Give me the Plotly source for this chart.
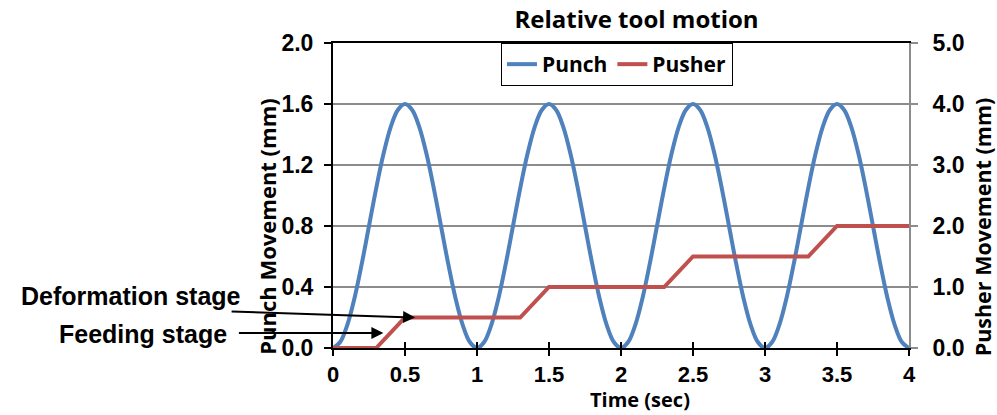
import plotly.graph_objects as go

# ---- data ----
time_s = [0.00, 0.05, 0.10, 0.15, 0.20, 0.25, 0.30, 0.35, 0.40, 0.45,
          0.50, 0.55, 0.60, 0.65, 0.70, 0.75, 0.80, 0.85, 0.90, 0.95,
          1.00, 1.05, 1.10, 1.15, 1.20, 1.25, 1.30, 1.35, 1.40, 1.45,
          1.50, 1.55, 1.60, 1.65, 1.70, 1.75, 1.80, 1.85, 1.90, 1.95,
          2.00, 2.05, 2.10, 2.15, 2.20, 2.25, 2.30, 2.35, 2.40, 2.45,
          2.50, 2.55, 2.60, 2.65, 2.70, 2.75, 2.80, 2.85, 2.90, 2.95,
          3.00, 3.05, 3.10, 3.15, 3.20, 3.25, 3.30, 3.35, 3.40, 3.45,
          3.50, 3.55, 3.60, 3.65, 3.70, 3.75, 3.80, 3.85, 3.90, 3.95,
          4.00]
punch_mm = [0.000, 0.039, 0.153, 0.330, 0.553, 0.800, 1.047, 1.270, 1.447, 1.561,
            1.600, 1.561, 1.447, 1.270, 1.047, 0.800, 0.553, 0.330, 0.153, 0.039,
            0.000, 0.039, 0.153, 0.330, 0.553, 0.800, 1.047, 1.270, 1.447, 1.561,
            1.600, 1.561, 1.447, 1.270, 1.047, 0.800, 0.553, 0.330, 0.153, 0.039,
            0.000, 0.039, 0.153, 0.330, 0.553, 0.800, 1.047, 1.270, 1.447, 1.561,
            1.600, 1.561, 1.447, 1.270, 1.047, 0.800, 0.553, 0.330, 0.153, 0.039,
            0.000, 0.039, 0.153, 0.330, 0.553, 0.800, 1.047, 1.270, 1.447, 1.561,
            1.600, 1.561, 1.447, 1.270, 1.047, 0.800, 0.553, 0.330, 0.153, 0.039,
            0.000]
pusher_time = [0.0, 0.3, 0.5, 1.3, 1.5, 2.3, 2.5, 3.3, 3.5, 4.0]
pusher_mm = [0.0, 0.0, 0.5, 0.5, 1.0, 1.0, 1.5, 1.5, 2.0, 2.0]

x_ticks = [0, 0.5, 1, 1.5, 2, 2.5, 3, 3.5, 4]
x_ticklabels = ["0", "0.5", "1", "1.5", "2", "2.5", "3", "3.5", "4"]
y1_ticks = [0.0, 0.4, 0.8, 1.2, 1.6, 2.0]
y1_ticklabels = ["0.0", "0.4", "0.8", "1.2", "1.6", "2.0"]
y2_ticks = [0, 1, 2, 3, 4, 5]
y2_ticklabels = ["0.0", "1.0", "2.0", "3.0", "4.0", "5.0"]

ARIAL = "Liberation Sans, Arial, sans-serif"
CALIBRI = "Open Sans, Calibri, sans-serif"
GRAY = "#8C8C8C"

fig = go.Figure()
fig.add_trace(go.Scatter(x=time_s, y=punch_mm, mode="lines", name="Punch",
                         line=dict(color="#4F81BD", width=4, shape="spline"), yaxis="y"))
fig.add_trace(go.Scatter(x=pusher_time, y=pusher_mm, mode="lines", name="Pusher",
                         line=dict(color="#C0504D", width=4), yaxis="y2"))
# invisible trace so the inner-tick x axis is drawn
fig.add_trace(go.Scatter(x=[0], y=[0], xaxis="x2", yaxis="y", mode="markers",
                         marker=dict(opacity=0), showlegend=False, hoverinfo="skip"))

fig.update_layout(
    width=997, height=415,
    margin=dict(l=333, r=88, t=43, b=67),
    paper_bgcolor="white", plot_bgcolor="white",
    showlegend=True,
    title=dict(text="Relative tool motion", xref="paper", x=0.527, xanchor="center",
               yref="container", y=0.952, yanchor="middle",
               font=dict(family=CALIBRI, size=24, color="black", weight="bold")),
    legend=dict(orientation="h", x=0.493, xanchor="center", y=1.0, yanchor="top",
                bgcolor="white", bordercolor="black", borderwidth=1,
                font=dict(family=CALIBRI, size=21, color="black", weight="bold"),
                tracegroupgap=0),
    xaxis=dict(range=[0, 4], tickvals=x_ticks, ticktext=x_ticklabels,
               showgrid=False, zeroline=False, showline=True, linecolor="black", linewidth=2,
               mirror=True, ticks="outside", ticklen=6, tickwidth=2, tickcolor="black",
               ticklabelstandoff=0,
               tickfont=dict(family=ARIAL, size=22, color="black", weight="bold")),
    xaxis2=dict(range=[0, 4], tickvals=x_ticks, ticktext=["" for _ in x_ticks], overlaying="x",
                showgrid=False, zeroline=False, showline=False, ticks="inside", ticklen=6,
                tickwidth=2, tickcolor="black", side="bottom", anchor="y"),
    yaxis=dict(range=[0, 2], tickvals=y1_ticks, ticktext=y1_ticklabels,
               showgrid=True, gridcolor=GRAY, gridwidth=1.5, zeroline=False,
               showline=True, linecolor="black", linewidth=2,
               ticks="outside", ticklen=7, tickwidth=2, tickcolor="black", ticklabelstandoff=6,
               tickfont=dict(family=ARIAL, size=23, color="black", weight="bold")),
    yaxis2=dict(range=[0, 5], tickvals=y2_ticks, ticktext=y2_ticklabels, overlaying="y", side="right",
                showgrid=False, zeroline=False, showline=True, linecolor=GRAY, linewidth=2,
                ticks="outside", ticklen=7, tickwidth=2, tickcolor=GRAY, ticklabelstandoff=10,
                tickfont=dict(family=ARIAL, size=23, color="black", weight="bold")),
)

# axis titles (placed as in the reference)
fig.add_annotation(text="Time (sec)", xref="paper", yref="paper", x=0.533, y=-0.219,
                   xanchor="center", yanchor="bottom", showarrow=False,
                   font=dict(family=CALIBRI, size=20, color="black", weight="bold"))
fig.add_annotation(text="Punch Movement (mm)", xref="paper", yref="paper", x=-0.116, y=0.398,
                   xanchor="center", yanchor="middle", showarrow=False, textangle=-90,
                   font=dict(family=CALIBRI, size=22, color="black", weight="bold"))
fig.add_annotation(text="Pusher Movement (mm)", xref="paper", yref="paper", x=1.128, y=0.398,
                   xanchor="center", yanchor="middle", showarrow=False, textangle=-90,
                   font=dict(family=CALIBRI, size=21.5, color="black", weight="bold"))

# stage labels and arrows
fig.add_annotation(text="Deformation stage", xref="paper", yref="paper", x=-0.157, y=0.171,
                   xanchor="right", yanchor="middle", showarrow=False,
                   font=dict(family=ARIAL, size=25, color="black", weight="bold"))
fig.add_annotation(text="Feeding stage", xref="paper", yref="paper", x=-0.181, y=0.046,
                   xanchor="right", yanchor="middle", showarrow=False,
                   font=dict(family=ARIAL, size=25, color="black", weight="bold"))
fig.add_annotation(text="", xref="x", yref="y", x=0.57, y=0.2, ax=-185, ay=-6,
                   showarrow=True, arrowhead=2, arrowsize=1.2, arrowwidth=2, arrowcolor="black")
fig.add_annotation(text="", xref="x", yref="y", x=0.35, y=0.099, ax=-146, ay=0,
                   showarrow=True, arrowhead=2, arrowsize=1.2, arrowwidth=2, arrowcolor="black")

fig.write_html("out.html")
